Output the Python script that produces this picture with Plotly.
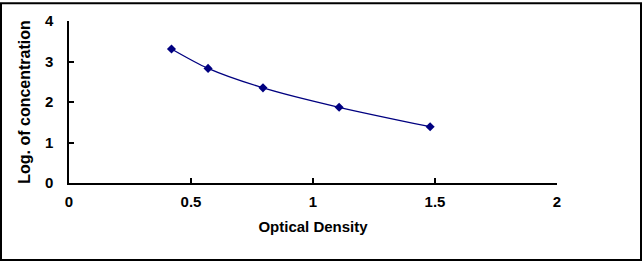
import plotly.graph_objects as go

od = [0.42, 0.57, 0.795, 1.107, 1.48]
log_conc = [3.31, 2.83, 2.35, 1.87, 1.39]
x_ticks = [0, 0.5, 1, 1.5, 2]
x_tick_labels = ["0", "0.5", "1", "1.5", "2"]
y_ticks = [0, 1, 2, 3, 4]
y_tick_labels = ["0", "1", "2", "3", "4"]

W, H = 642, 262
ml, mr, mt, mb = 69, 85, 19, 79
pw = W - ml - mr
ph = H - mt - mb

fig = go.Figure()
fig.add_trace(go.Scatter(
    x=od, y=log_conc, mode="lines+markers",
    line=dict(color="#000080", width=1.3, shape="spline", smoothing=0.8),
    marker=dict(symbol="diamond", size=7, color="#000080"),
    showlegend=False,
))

fam = "Liberation Sans, Arial, sans-serif"
tickfont = dict(family=fam, size=15, color="black")
xtitlefont = dict(family=fam, size=15, color="black")
ytitlefont = dict(family=fam, size=16, color="black")
fig.update_layout(
    width=W, height=H,
    margin=dict(l=ml, r=mr, t=mt, b=mb),
    paper_bgcolor="white", plot_bgcolor="white",
    xaxis=dict(
        range=[0, 2], tickvals=x_ticks, ticktext=[f"<b>{t}</b>" for t in x_tick_labels],
        tickfont=tickfont, ticklabelstandoff=4,
        showline=True, linecolor="black", linewidth=1.5,
        ticks="inside", ticklen=5, tickcolor="black", tickwidth=1.5,
        showgrid=False, zeroline=False,
        title=dict(text="<b>Optical Density</b>", font=xtitlefont, standoff=13),
    ),
    yaxis=dict(
        range=[0, 4], tickvals=y_ticks, ticktext=[f"<b>{t}</b>" for t in y_tick_labels],
        tickfont=tickfont, ticklabelstandoff=11,
        showline=True, linecolor="black", linewidth=1.5,
        ticks="inside", ticklen=5, tickcolor="black", tickwidth=1.5,
        showgrid=False, zeroline=False,
        title=dict(text="<b>Log. of concentration</b>", font=ytitlefont, standoff=10),
    ),
)

# outer frame around the whole picture
fig.add_shape(
    type="rect", xref="paper", yref="paper",
    x0=(1 - ml) / pw, x1=(W - 1 - ml) / pw,
    y0=(ph + mt - (H - 1)) / ph, y1=(ph + mt - 1) / ph,
    line=dict(color="black", width=2), fillcolor="rgba(0,0,0,0)", layer="above",
)

fig.write_html("out.html")
